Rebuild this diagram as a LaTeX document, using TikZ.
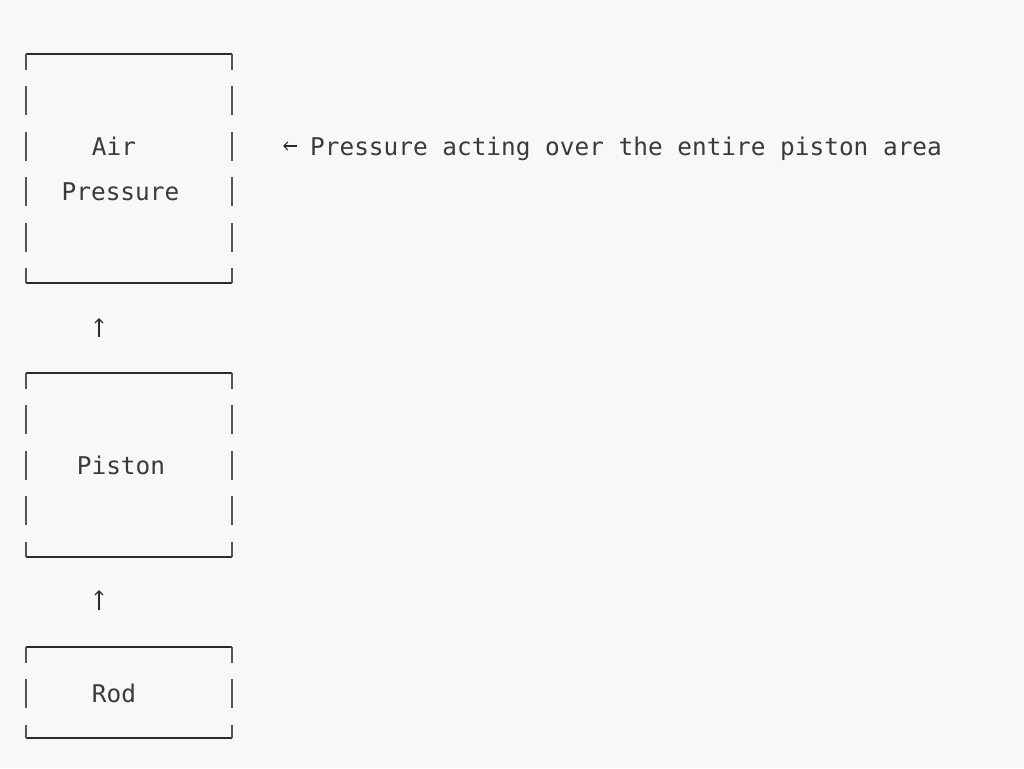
\documentclass[tikz,border=0pt]{standalone}
\usepackage{fontspec}
\setmonofont{DejaVu Sans Mono}
\usetikzlibrary{arrows.meta}
\definecolor{bg}{HTML}{F8F8F8}
\definecolor{ink}{HTML}{2B2B2B}
\definecolor{txt}{HTML}{3A3A3A}
\begin{document}
\begin{tikzpicture}[x=1pt,y=-1pt,
  box/.style={draw=none, inner sep=0pt, rectangle},
  edge/.style={ink, line width=1.7pt, line cap=square},
  side/.style={ink!80, line width=2pt, dash pattern=on 29pt off 16.5pt, dash phase=13pt},
  lbl/.style={inner sep=0pt, anchor=base, font=\ttfamily\fontsize{24.4}{29}\selectfont, text=txt},
  arr/.style={ink, line width=1.2pt, -{Straight Barb[length=4pt,width=8pt]}}
]
\fill[bg] (0,0) rectangle (1024,768);
\useasboundingbox (0,0) rectangle (1024,768);

% boxes
\node[box, minimum width=206pt, minimum height=229pt] (air) at (129,168.5) {};
\node[box, minimum width=206pt, minimum height=184pt] (piston) at (129,465) {};
\node[box, minimum width=206pt, minimum height=91pt] (rod) at (129,692.5) {};

\foreach \b in {air,piston,rod}{
  \draw[edge] (\b.north west) -- (\b.north east);
  \draw[edge] (\b.south west) -- (\b.south east);
  \draw[side] (\b.north west) -- (\b.south west);
  \draw[side] (\b.north east) -- (\b.south east);
}

% labels
\node[lbl] (airlbl) at (114,155) {Air};
\node[lbl] (prlbl) at (120.5,200) {Pressure};
\node[lbl] (pistonlbl) at (121,474) {Piston};
\node[lbl] (rodlbl) at (114,702) {Rod};
\node[lbl, anchor=base west] (note) at (310,155) {Pressure acting over the entire piston area};

% connectors
\draw[arr, shorten <=36pt, shorten >=35pt] ([xshift=-30pt]piston.north) -- ([xshift=-30pt]air.south);
\draw[arr, shorten <=37pt, shorten >=33pt] ([xshift=-30pt]rod.north) -- ([xshift=-30pt]piston.south);
\coordinate (ntip) at (283,146);
\draw[arr, shorten <=13pt] (note.west |- ntip) -- (ntip);
\end{tikzpicture}
\end{document}
